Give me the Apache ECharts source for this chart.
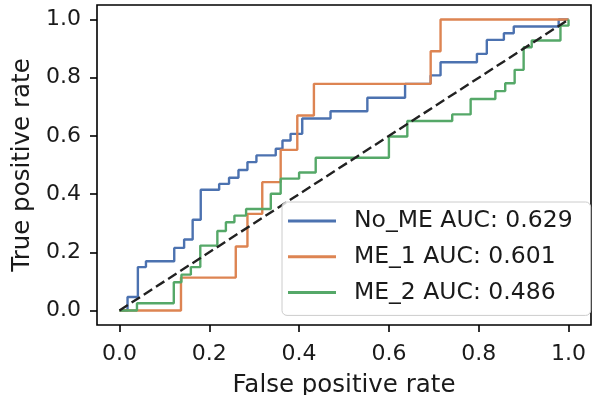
<!DOCTYPE html>
<html>
<head>
<meta charset="utf-8">
<title>ROC curves</title>
<script src="https://cdn.jsdelivr.net/npm/echarts@6/dist/echarts.min.js"></script>
<style>
  html, body { margin: 0; padding: 0; background: #ffffff; }
  #chart { width: 594px; height: 395px; }
</style>
</head>
<body>
<div id="chart"></div>
<script>
// ROC curve corner points (false positive rate / true positive rate)
const noMeFpr = [0, 0.018, 0.018, 0.041, 0.041, 0.059, 0.059, 0.122, 0.122, 0.144, 0.144, 0.163, 0.163, 0.181, 0.181, 0.222, 0.222, 0.244, 0.244, 0.265, 0.265, 0.285, 0.285, 0.305, 0.305, 0.348, 0.348, 0.363, 0.363, 0.381, 0.381, 0.407, 0.407, 0.470, 0.470, 0.552, 0.552, 0.636, 0.636, 0.693, 0.693, 0.715, 0.715, 0.796, 0.796, 0.818, 0.818, 0.856, 0.856, 0.878, 0.878, 0.978, 0.978, 1.0];
const noMeTpr = [0, 0, 0.046, 0.046, 0.149, 0.149, 0.169, 0.169, 0.215, 0.215, 0.244, 0.244, 0.312, 0.312, 0.415, 0.415, 0.435, 0.435, 0.456, 0.456, 0.483, 0.483, 0.510, 0.510, 0.533, 0.533, 0.556, 0.556, 0.584, 0.584, 0.607, 0.607, 0.660, 0.660, 0.685, 0.685, 0.731, 0.731, 0.779, 0.779, 0.808, 0.808, 0.853, 0.853, 0.882, 0.882, 0.930, 0.930, 0.953, 0.953, 0.976, 0.976, 1.0, 1.0];

const me1Fpr = [0, 0.137, 0.137, 0.259, 0.259, 0.285, 0.285, 0.318, 0.318, 0.359, 0.359, 0.396, 0.396, 0.433, 0.433, 0.693, 0.693, 0.715, 0.715, 1.0];
const me1Tpr = [0, 0, 0.113, 0.113, 0.220, 0.220, 0.332, 0.332, 0.441, 0.441, 0.552, 0.552, 0.670, 0.670, 0.779, 0.779, 0.891, 0.891, 1.0, 1.0];

const me2Fpr = [0, 0.039, 0.039, 0.121, 0.121, 0.138, 0.138, 0.159, 0.159, 0.180, 0.180, 0.218, 0.218, 0.237, 0.237, 0.256, 0.256, 0.282, 0.282, 0.337, 0.337, 0.359, 0.359, 0.400, 0.400, 0.437, 0.437, 0.600, 0.600, 0.641, 0.641, 0.741, 0.741, 0.782, 0.782, 0.837, 0.837, 0.859, 0.859, 0.880, 0.880, 0.900, 0.900, 0.918, 0.918, 0.982, 0.982, 1.0, 1.0];
const me2Tpr = [0, 0, 0.025, 0.025, 0.097, 0.097, 0.123, 0.123, 0.149, 0.149, 0.223, 0.223, 0.273, 0.273, 0.303, 0.303, 0.326, 0.326, 0.349, 0.349, 0.401, 0.401, 0.453, 0.453, 0.474, 0.474, 0.525, 0.525, 0.598, 0.598, 0.651, 0.651, 0.674, 0.674, 0.727, 0.727, 0.754, 0.754, 0.781, 0.781, 0.827, 0.827, 0.905, 0.905, 0.928, 0.928, 0.979, 0.979, 1.0];

const modelNames = ['No_ME', 'ME_1', 'ME_2'];
const aucValues = [0.629, 0.601, 0.486];
const tickValues = [0, 0.2, 0.4, 0.6, 0.8, 1.0];
const chanceFpr = [0, 1];
const chanceTpr = [0, 1];

const colors = ['#4c72b0', '#dd8452', '#55a868'];
const FONT = 'DejaVu Sans';
const TEXT = '#1a1a1a';

const zipPts = (xs, ys) => xs.map((x, i) => [x, ys[i]]);
const curves = [
  zipPts(noMeFpr, noMeTpr),
  zipPts(me1Fpr, me1Tpr),
  zipPts(me2Fpr, me2Tpr)
];
const labels = modelNames.map((n, i) => n + ' AUC: ' + aucValues[i].toFixed(3));

const axisCommon = {
  type: 'value',
  min: -0.05,
  max: 1.05,
  splitLine: { show: false },
  axisLine: { show: false, onZero: false },
  axisTick: { show: true, length: 7, inside: false, customValues: tickValues,
              lineStyle: { color: '#000', width: 1.6 } },
  axisLabel: { customValues: tickValues, fontSize: 22, fontFamily: FONT, color: TEXT,
               formatter: v => v.toFixed(1) },
  nameLocation: 'middle',
  nameTextStyle: { fontSize: 24.5, fontFamily: FONT, color: TEXT }
};

const series = curves.map((pts, i) => ({
  name: labels[i],
  type: 'line',
  data: pts,
  showSymbol: false,
  symbol: 'none',
  lineStyle: { color: colors[i], width: 2.4 },
  itemStyle: { color: colors[i] },
  z: 2
}));
// diagonal reference line for a random classifier, drawn above the curves
series.push({
  name: 'chance',
  type: 'line',
  data: zipPts(chanceFpr, chanceTpr),
  showSymbol: false,
  symbol: 'none',
  silent: true,
  lineStyle: { color: '#222', width: 2.4, type: [10, 4.5] },
  z: 3
});

const chart = echarts.init(document.getElementById('chart'), null, { renderer: 'canvas' });
chart.setOption({
  animation: false,
  backgroundColor: '#ffffff',
  grid: {
    left: 97, top: 5, width: 494, height: 320,
    outerBoundsMode: 'none',
    containLabel: false,
    show: true, borderColor: '#000', borderWidth: 1.6, backgroundColor: '#ffffff'
  },
  xAxis: Object.assign({}, axisCommon, {
    name: 'False positive rate',
    nameGap: 48,
    axisLabel: Object.assign({}, axisCommon.axisLabel, { margin: 18 })
  }),
  yAxis: Object.assign({}, axisCommon, {
    name: 'True positive rate',
    nameGap: 60,
    axisLabel: Object.assign({}, axisCommon.axisLabel, { margin: 16 })
  }),
  legend: {
    orient: 'vertical',
    left: 282,
    top: 202,
    data: labels,
    icon: 'rect',
    itemWidth: 48,
    itemHeight: 3,
    itemGap: 9.7,
    padding: [6, 18, 10, 6],
    backgroundColor: 'rgba(255,255,255,0.8)',
    borderColor: '#cccccc',
    borderWidth: 1,
    borderRadius: 5,
    selectedMode: false,
    textStyle: { fontSize: 23.5, fontFamily: FONT, color: TEXT, lineHeight: 26,
                 padding: [0, 0, 0, 13] }
  },
  series: series
});
</script>
</body>
</html>
